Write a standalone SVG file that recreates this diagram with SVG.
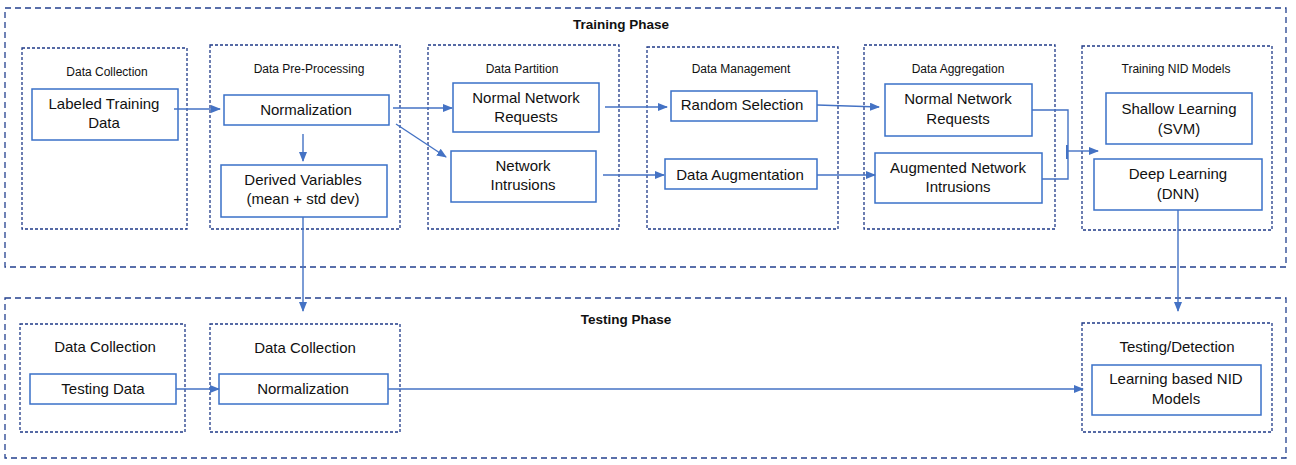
<svg xmlns="http://www.w3.org/2000/svg" width="1296" height="465" viewBox="0 0 1296 465">
<defs>
<marker id="ah" markerWidth="10" markerHeight="8" refX="9" refY="4" orient="auto" markerUnits="userSpaceOnUse">
<path d="M0,0 L10,4 L0,8 z" fill="#4472C4"/>
</marker>
<style>
.phase{fill:none;stroke:#23408F;stroke-width:1.3;stroke-dasharray:6,4}
.stage{fill:none;stroke:#1F3A88;stroke-width:1.3;stroke-dasharray:3,2}
.box{fill:#fff;stroke:#3A70C8;stroke-width:1.5}
.t{font-family:"Liberation Sans",Arial,sans-serif;font-size:15px;fill:#111;text-anchor:middle}
.s{font-family:"Liberation Sans",Arial,sans-serif;font-size:12px;fill:#111;text-anchor:middle}
.h{font-family:"Liberation Sans",Arial,sans-serif;font-size:13.5px;font-weight:bold;fill:#111;text-anchor:middle}
.c{fill:none;stroke:#4472C4;stroke-width:1.4}
</style>
</defs>
<rect width="1296" height="465" fill="#fff"/>

<g id="training-phase">
<rect class="phase" x="5" y="8" width="1281" height="259"/>
<text class="h" x="621" y="29">Training Phase</text>
</g>
<g id="testing-phase">
<rect class="phase" x="5" y="298" width="1281" height="160"/>
<text class="h" x="626" y="324">Testing Phase</text>
</g>

<g id="tr-data-collection">
<rect class="stage" x="22" y="48" width="165" height="181"/>
<text class="s" x="107" y="76">Data Collection</text>
</g>
<g id="tr-preprocessing">
<rect class="stage" x="210" y="45" width="190" height="184"/>
<text class="s" x="309" y="73">Data Pre-Processing</text>
</g>
<g id="tr-partition">
<rect class="stage" x="428" y="45" width="191" height="184"/>
<text class="s" x="522" y="73">Data Partition</text>
</g>
<g id="tr-management">
<rect class="stage" x="647" y="47" width="191" height="182"/>
<text class="s" x="741" y="73">Data Management</text>
</g>
<g id="tr-aggregation">
<rect class="stage" x="864" y="45" width="191" height="184"/>
<text class="s" x="958" y="73">Data Aggregation</text>
</g>
<g id="tr-models">
<rect class="stage" x="1082" y="46" width="190" height="184"/>
<text class="s" x="1176" y="73">Training NID Models</text>
</g>

<g id="labeled-training-data">
<rect class="box" x="32" y="89" width="146" height="51"/>
<text class="t" x="104" y="109">Labeled Training</text>
<text class="t" x="104" y="128">Data</text>
</g>
<g id="normalization">
<rect class="box" x="224" y="95" width="165" height="30"/>
<text class="t" x="306" y="115">Normalization</text>
</g>
<g id="derived-variables">
<rect class="box" x="221" y="165" width="166" height="52"/>
<text class="t" x="303" y="185">Derived Variables</text>
<text class="t" x="303" y="204">(mean + std dev)</text>
</g>
<g id="normal-requests-1">
<rect class="box" x="453" y="83" width="146" height="49"/>
<text class="t" x="526" y="103">Normal Network</text>
<text class="t" x="526" y="122">Requests</text>
</g>
<g id="network-intrusions">
<rect class="box" x="451" y="151" width="145" height="51"/>
<text class="t" x="523" y="171">Network</text>
<text class="t" x="523" y="190">Intrusions</text>
</g>
<g id="random-selection">
<rect class="box" x="671" y="91" width="146" height="30"/>
<text class="t" x="742" y="110">Random Selection</text>
</g>
<g id="data-augmentation">
<rect class="box" x="665" y="159" width="152" height="30"/>
<text class="t" x="740" y="180">Data Augmentation</text>
</g>
<g id="normal-requests-2">
<rect class="box" x="885" y="84" width="147" height="52"/>
<text class="t" x="958" y="104">Normal Network</text>
<text class="t" x="958" y="124">Requests</text>
</g>
<g id="augmented-intrusions">
<rect class="box" x="875" y="153" width="167" height="50"/>
<text class="t" x="958" y="173">Augmented Network</text>
<text class="t" x="958" y="192">Intrusions</text>
</g>
<g id="shallow-learning">
<rect class="box" x="1106" y="93" width="146" height="51"/>
<text class="t" x="1179" y="114">Shallow Learning</text>
<text class="t" x="1179" y="134">(SVM)</text>
</g>
<g id="deep-learning">
<rect class="box" x="1094" y="159" width="168" height="51"/>
<text class="t" x="1178" y="179">Deep Learning</text>
<text class="t" x="1178" y="199">(DNN)</text>
</g>

<g id="te-data-collection">
<rect class="stage" x="20" y="324" width="165" height="108"/>
<text class="t" x="105" y="352">Data Collection</text>
</g>
<g id="te-data-collection-2">
<rect class="stage" x="210" y="324" width="190" height="108"/>
<text class="t" x="305" y="353">Data Collection</text>
</g>
<g id="te-detection">
<rect class="stage" x="1082" y="323" width="190" height="109"/>
<text class="t" x="1177" y="352">Testing/Detection</text>
</g>
<g id="testing-data">
<rect class="box" x="30" y="374" width="146" height="30"/>
<text class="t" x="103" y="394">Testing Data</text>
</g>
<g id="te-normalization">
<rect class="box" x="219" y="374" width="169" height="30"/>
<text class="t" x="303" y="394">Normalization</text>
</g>
<g id="learning-nid">
<rect class="box" x="1092" y="365" width="169" height="50"/>
<text class="t" x="1176" y="384">Learning based NID</text>
<text class="t" x="1176" y="404">Models</text>
</g>

<g id="connectors">
<line class="c" x1="174" y1="109" x2="220" y2="109" marker-end="url(#ah)"/>
<line class="c" x1="303" y1="134" x2="303" y2="161" marker-end="url(#ah)"/>
<line class="c" x1="393" y1="108" x2="452" y2="108" marker-end="url(#ah)"/>
<line class="c" x1="396" y1="124" x2="446" y2="157" marker-end="url(#ah)"/>
<line class="c" x1="605" y1="107" x2="667" y2="107" marker-end="url(#ah)"/>
<line class="c" x1="603" y1="175" x2="664" y2="175" marker-end="url(#ah)"/>
<line class="c" x1="817" y1="105" x2="879" y2="107" marker-end="url(#ah)"/>
<line class="c" x1="817" y1="175" x2="875" y2="175" marker-end="url(#ah)"/>
<path class="c" d="M1032,110 H1068 V179 H1042"/>
<line x1="1067" y1="145" x2="1067" y2="159" stroke="#4472C4" stroke-width="2"/>
<line class="c" x1="1068" y1="151" x2="1098" y2="151" marker-end="url(#ah)"/>
<line class="c" x1="303" y1="217" x2="303" y2="311" marker-end="url(#ah)"/>
<line class="c" x1="1178" y1="210" x2="1178" y2="311" marker-end="url(#ah)"/>
<line class="c" x1="176" y1="389" x2="219" y2="389" marker-end="url(#ah)"/>
<line class="c" x1="388" y1="389" x2="1083" y2="389" marker-end="url(#ah)"/>
</g>
</svg>
